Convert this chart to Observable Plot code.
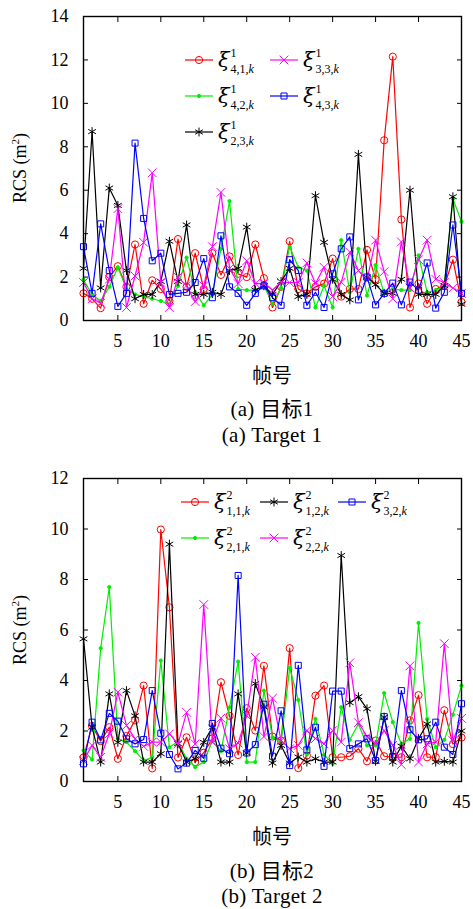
<!DOCTYPE html>
<html><head><meta charset="utf-8">
<script src="https://cdn.jsdelivr.net/npm/d3@7"></script>
<script src="https://cdn.jsdelivr.net/npm/@observablehq/plot@0.6"></script>
<style>
body{margin:0;background:#fff;}
#wrap{position:relative;width:473px;height:909px;overflow:hidden;font-family:"Liberation Serif","Noto Sans CJK SC",serif;color:#000;}
.abs{position:absolute;}
.cap{position:absolute;left:0;width:544px;text-align:center;font-size:21px;line-height:1;white-space:nowrap;letter-spacing:0.3px;}
.xt{position:absolute;left:0;width:544px;text-align:center;font-size:20px;line-height:1;font-family:"Noto Sans CJK SC",sans-serif;}
.yl{position:absolute;font-size:18px;line-height:1;white-space:nowrap;transform:translate(-50%,-50%) rotate(-90deg);}
.leg{position:absolute;display:flex;align-items:center;height:30px;}
.leg svg{overflow:visible;}
.xi{font-style:italic;font-size:21px;margin-left:5px;font-family:"DejaVu Serif","Liberation Serif",serif;}
.ss{display:inline-flex;flex-direction:column;font-size:12px;line-height:1.05;margin-left:1px;transform:translateY(1px);}
.ss span:first-child{margin-bottom:3px;}
</style></head><body><div id="wrap"></div>
<script>
const frames = d3.range(1, 46);
const xTicks = [5,10,15,20,25,30,35,40,45];
const yTicks1 = [0,2,4,6,8,10,12,14];
const yTicks2 = [0,2,4,6,8,10,12];

// Target 1
const t1_41 = [1.25,1.0,0.57,2.0,2.5,1.55,3.5,0.77,1.85,1.45,0.9,3.75,1.55,3.1,1.45,3.1,2.1,2.95,2.15,2.0,3.5,1.95,0.6,1.55,3.65,1.45,1.25,1.55,1.7,2.85,1.1,1.45,1.45,3.25,1.9,8.3,12.15,4.65,0.6,1.7,0.77,1.45,1.6,2.8,0.85];
const t1_42 = [1.87,1.2,0.9,1.55,2.45,1.45,1.2,1.1,1.0,0.9,0.75,1.6,2.9,1.3,0.7,1.2,3.3,5.5,1.45,1.4,1.4,1.6,0.77,1.5,3.4,2.45,2.3,0.6,1.6,0.6,3.7,1.3,3.3,1.15,2.55,1.25,1.45,1.4,1.4,3.0,1.3,1.4,1.6,5.6,4.55];
const t1_23 = [2.4,8.7,1.5,6.1,5.3,2.3,1.0,1.2,1.2,1.8,3.65,1.8,4.4,1.2,1.2,1.3,1.2,2.3,2.4,4.3,1.4,1.6,1.2,1.8,2.4,1.1,1.2,5.75,3.6,1.9,1.2,0.95,7.65,2.0,1.65,1.25,1.25,1.9,6.0,1.2,1.2,1.2,1.6,5.7,0.75];
const t1_33 = [1.75,1.0,0.8,1.9,5.15,0.6,2.05,3.6,6.8,1.75,0.6,2.0,1.6,0.87,1.6,3.4,5.9,2.4,1.7,2.75,1.7,1.7,1.4,1.77,1.75,1.75,2.65,1.7,2.45,1.1,1.77,3.15,2.3,1.85,3.7,2.25,1.0,3.62,1.5,2.8,3.7,1.9,1.75,1.5,1.25];
const t1_43 = [3.4,1.25,4.45,2.3,0.65,1.25,8.17,4.7,2.75,3.1,1.2,1.25,1.3,1.75,2.85,1.05,3.9,1.55,1.25,0.7,1.25,1.6,1.05,0.7,2.8,2.3,0.7,1.3,0.6,2.15,3.3,3.85,0.95,2.0,0.72,1.25,1.72,0.72,1.77,1.4,2.65,0.57,1.3,4.4,1.25];

// Target 2
const t2_11 = [0.95,2.2,1.6,2.15,0.9,1.8,2.42,3.8,0.52,9.98,6.9,0.95,1.75,0.77,1.14,1.7,3.93,2.6,1.05,2.9,2.02,4.58,1.78,1.62,5.28,0.53,1.03,3.4,3.8,0.96,0.96,1.0,1.3,0.8,1.62,1.0,0.96,0.96,2.42,3.42,0.96,0.96,2.82,1.48,1.74];
const t2_12 = [5.65,2.15,0.77,3.47,1.55,3.6,2.6,0.77,0.77,1.1,9.4,1.5,0.77,0.9,1.55,2.15,0.77,0.77,3.47,1.13,3.88,2.95,0.73,1.43,0.73,0.97,0.77,0.9,0.77,0.77,8.95,3.12,3.36,2.88,0.8,2.55,0.77,1.4,0.9,1.7,2.28,0.77,0.8,0.77,2.0];
const t2_32 = [0.7,2.35,1.65,2.7,2.39,1.69,1.49,1.66,3.6,1.91,1.07,0.5,0.73,1.23,0.92,2.3,1.32,1.1,8.16,1.13,1.46,3.06,1.0,2.8,0.63,4.6,1.25,2.15,0.6,3.58,3.58,1.3,1.49,1.69,0.83,2.57,0.99,3.6,2.05,1.65,1.69,2.35,1.36,1.07,3.08];
const t2_21 = [1.23,0.87,5.28,7.7,1.69,1.56,1.2,0.83,0.96,4.79,1.36,1.58,0.9,0.57,0.77,1.6,1.2,2.94,4.75,0.77,0.77,3.6,1.75,1.56,4.5,3.23,1.07,2.48,1.06,0.7,2.94,1.65,2.28,1.43,1.43,3.5,2.35,1.49,1.69,6.28,2.48,1.36,1.65,2.65,3.8];
const t2_22 = [0.83,1.43,0.96,1.89,3.54,2.22,1.69,1.39,1.56,1.56,1.89,1.49,2.74,1.49,7.01,1.56,2.51,1.3,1.52,2.61,4.92,1.78,3.3,1.62,1.3,1.43,2.02,1.7,1.49,2.02,1.56,4.7,2.33,1.78,1.49,2.02,1.43,0.67,4.58,0.77,1.49,1.56,5.46,1.62,2.5];

const STY = {
  red:     {color:"#ff0000", symbol:"circle",   r:3.6, fill:"none"},
  green:   {color:"#00ee00", symbol:"circle",   r:1.6, fill:"#00ee00"},
  black:   {color:"#000000", symbol:"asterisk", r:4.2, fill:"none"},
  magenta: {color:"#ff00ff", symbol:"times",    r:4.0, fill:"none"},
  blue:    {color:"#0000ff", symbol:"square",   r:3.4, fill:"none"}
};

const series1 = [
  {values:t1_41, st:STY.red,     sup:"1", sub:"4,1,"},
  {values:t1_42, st:STY.green,   sup:"1", sub:"4,2,"},
  {values:t1_23, st:STY.black,   sup:"1", sub:"2,3,"},
  {values:t1_33, st:STY.magenta, sup:"1", sub:"3,3,"},
  {values:t1_43, st:STY.blue,    sup:"1", sub:"4,3,"}
];
const series2 = [
  {values:t2_11, st:STY.red,     sup:"2", sub:"1,1,"},
  {values:t2_21, st:STY.green,   sup:"2", sub:"2,1,"},
  {values:t2_12, st:STY.black,   sup:"2", sub:"1,2,"},
  {values:t2_22, st:STY.magenta, sup:"2", sub:"2,2,"},
  {values:t2_32, st:STY.blue,    sup:"2", sub:"3,2,"}
];

const wrap = document.getElementById("wrap");

function makePanel(series, yMax, yTicks, top, marginTop, height) {
  const marks = [];
  for (const s of series) {
    const data = s.values.map((v, i) => ({k: frames[i], v}));
    marks.push(Plot.line(data, {x:"k", y:"v", stroke:s.st.color, strokeWidth:1.2}));
    marks.push(Plot.dot(data, {x:"k", y:"v", symbol:s.st.symbol, r:s.st.r, stroke:s.st.color, fill:s.st.fill, strokeWidth:1}));
  }
  marks.push(Plot.frame({stroke:"#000", strokeWidth:1.4}));
  marks.push(Plot.axisX(xTicks, {anchor:"bottom", tickSize:-5, tickPadding:19, fontSize:18, label:null}));
  marks.push(Plot.axisX(xTicks, {anchor:"top", tickSize:-5, tickFormat:() => "", label:null}));
  marks.push(Plot.axisY(yTicks, {anchor:"left", tickSize:-5, tickPadding:20, fontSize:18, label:null}));
  marks.push(Plot.axisY(yTicks, {anchor:"right", tickSize:-5, tickFormat:() => "", label:null}));
  const p = Plot.plot({
    width:473, height, marginLeft:83, marginRight:12, marginTop, marginBottom:70,
    x:{domain:[1,45], axis:null},
    y:{domain:[0,yMax], axis:null},
    style:{fontFamily:"Liberation Serif, serif", fontSize:"18px", color:"#000", background:"transparent", overflow:"visible"},
    marks
  });
  p.style.position = "absolute";
  p.style.left = "0px";
  p.style.top = top + "px";
  wrap.appendChild(p);
}

makePanel(series1, 14, yTicks1, 0, 16, 390);
makePanel(series2, 12, yTicks2, 460, 18, 391);

function addDiv(cls, html, styleStr) {
  const d = document.createElement("div");
  d.className = cls;
  d.innerHTML = html;
  d.setAttribute("style", styleStr);
  wrap.appendChild(d);
  return d;
}

// axis titles & captions
addDiv("yl", "RCS (m<sup style='font-size:11px'>2</sup>)", "left:19px;top:168px;");
addDiv("yl", "RCS (m<sup style='font-size:11px'>2</sup>)", "left:19px;top:630px;");
addDiv("xt", "帧号", "top:365px;");
addDiv("xt", "帧号", "top:826px;");
addDiv("cap", "(a) 目标1", "top:399px;");
addDiv("cap", "(a) Target 1", "top:425px;");
addDiv("cap", "(b) 目标2", "top:861px;");
addDiv("cap", "(b) Target 2", "top:886px;");

// legends
function legendItem(s, left, cy) {
  const sym = {circle:d3.symbolCircle, square:d3.symbolSquare, times:d3.symbolTimes, asterisk:d3.symbolAsterisk}[s.st.symbol];
  const path = d3.symbol(sym, s.st.r * s.st.r * Math.PI)();
  const html = `<svg width="28" height="20"><line x1="0" y1="10" x2="28" y2="10" stroke="${s.st.color}" stroke-width="1.2"/>`+
    `<path transform="translate(14,10)" d="${path}" stroke="${s.st.color}" fill="${s.st.fill}" stroke-width="1"/></svg>`+
    `<span class="xi">ξ</span><span class="ss"><span>${s.sup}</span><span>${s.sub}<i>k</i></span></span>`;
  addDiv("leg", html, `left:${left}px;top:${cy - 15}px;`);
}
legendItem(series1[0], 185, 60);
legendItem(series1[1], 185, 96);
legendItem(series1[2], 185, 132);
legendItem(series1[3], 270, 60);
legendItem(series1[4], 270, 96);

legendItem(series2[0], 181, 502);
legendItem(series2[2], 260, 502);
legendItem(series2[4], 338, 502);
legendItem(series2[1], 181, 538);
legendItem(series2[3], 260, 538);
</script></body></html>
